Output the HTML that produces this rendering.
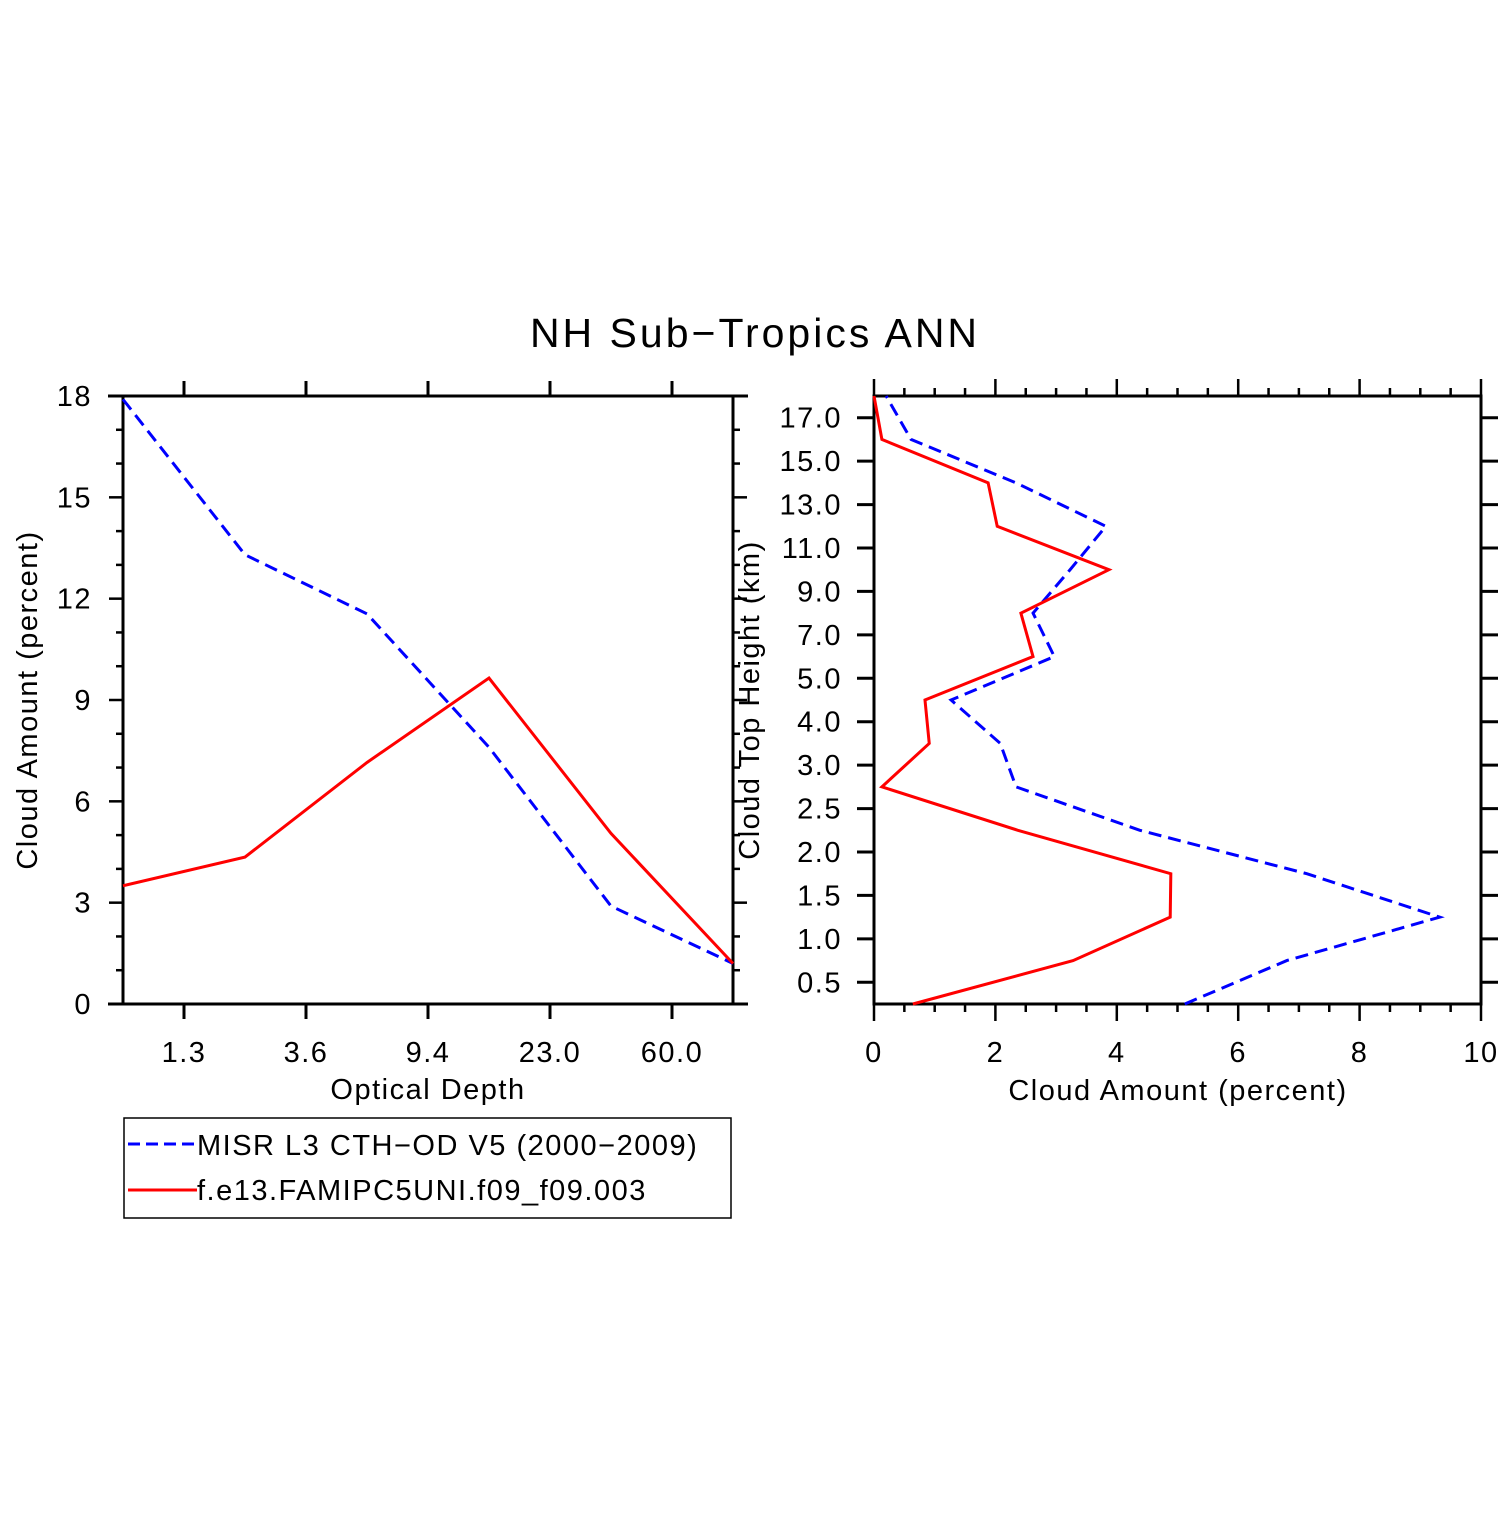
<!DOCTYPE html>
<html><head><meta charset="utf-8"><style>
html,body{margin:0;padding:0;background:#fff;}
svg text{font-family:"Liberation Sans","DejaVu Sans",sans-serif;fill:#000;letter-spacing:1.5px;}
</style></head><body>
<svg id="c" width="1510" height="1510" viewBox="0 0 1510 1510" xmlns="http://www.w3.org/2000/svg">
<rect width="1510" height="1510" fill="#fff"/>
<text x="755" y="347" font-size="41" text-anchor="middle" style="letter-spacing:3px">NH Sub−Tropics ANN</text>
<g id="L"></g>
<g id="R"></g>
<g>
<rect x="124" y="1118" width="607" height="100" fill="none" stroke="#000" stroke-width="1.5"/>
<line x1="128" y1="1144" x2="197" y2="1144" stroke="#00f" stroke-width="3" stroke-dasharray="12,6"/>
<text x="197" y="1155" font-size="29">MISR L3 CTH−OD V5 (2000−2009)</text>
<line x1="128" y1="1190" x2="197" y2="1190" stroke="#f00" stroke-width="3"/>
<text x="197" y="1200" font-size="29">f.e13.FAMIPC5UNI.f09_f09.003</text>
</g>
</svg>
<script>
// Left panel data
const odIndex = [0,1,2,3,4,5];
const odTickLabels = ["1.3","3.6","9.4","23.0","60.0"];
const odMisr = [17.9,13.3,11.55,7.6,2.9,1.2];
const odModel = [3.5,4.35,7.15,9.65,5.05,1.2];
const odYTicks = [0,3,6,9,12,15,18];
// Right panel data
const cthTickLabels = ["0.5","1.0","1.5","2.0","2.5","3.0","4.0","5.0","7.0","9.0","11.0","13.0","15.0","17.0"];
const cthMisr = [5.12,6.8,9.32,7.13,4.38,2.34,2.08,1.27,2.97,2.62,3.23,3.82,2.34,0.61,0.2];
const cthModel = [0.64,3.28,4.88,4.89,2.37,0.13,0.91,0.84,2.62,2.42,3.87,2.03,1.88,0.13,0.0];
const caXTicks = [0,2,4,6,8,10];

const NS="http://www.w3.org/2000/svg";
function mk(parent,tag,attrs,text){const e=document.createElementNS(NS,tag);for(const k in attrs)e.setAttribute(k,attrs[k]);if(text!==undefined)e.textContent=text;parent.appendChild(e);return e;}

// LEFT
const L=document.getElementById('L');
const lx0=123,lx1=733,ly0=1004,ly1=396;
const lxs=i=>lx0+(lx1-lx0)*i/5;
const lys=v=>ly0-(ly0-ly1)*v/18;
let e;
e=mk(L,'rect',{x:lx0,y:ly1,width:lx1-lx0,height:ly0-ly1,fill:'none',stroke:'#000','stroke-width':3});


mk(L,'line',{x1:108,y1:ly0,x2:748,y2:ly0,stroke:'#000','stroke-width':3});
mk(L,'line',{x1:108,y1:ly1,x2:748,y2:ly1,stroke:'#000','stroke-width':3});
for(let v=0;v<=18;v++){
  const y=lys(v), maj=v%3===0, len=maj?14:7;
  mk(L,'line',{x1:lx0-len,y1:y,x2:lx0,y2:y,stroke:'#000','stroke-width':2.5});
  mk(L,'line',{x1:lx1,y1:y,x2:lx1+len,y2:y,stroke:'#000','stroke-width':2.5});
}
odYTicks.forEach(v=>{
  e=mk(L,'text',{x:92,y:lys(v)+10,'font-size':29,'text-anchor':'end'},String(v));
  
  
});
odTickLabels.forEach((t,i)=>{
  const x=lxs(i+0.5);
  mk(L,'line',{x1:x,y1:ly1-15,x2:x,y2:ly1,stroke:'#000','stroke-width':3});
  mk(L,'line',{x1:x,y1:ly0,x2:x,y2:ly0+15,stroke:'#000','stroke-width':3});
  e=mk(L,'text',{x:x,y:1062,'font-size':29,'text-anchor':'middle'},t);
  
  
});
e=mk(L,'text',{x:428,y:1099,'font-size':29,'text-anchor':'middle'},'Optical Depth');


e=mk(L,'text',{x:0,y:0,'font-size':29,'text-anchor':'middle',transform:'translate(37,700) rotate(-90)'},'Cloud Amount (percent)');


e=mk(L,'polyline',{points:odIndex.map(i=>lxs(i)+','+lys(odMisr[i])).join(' '),fill:'none',stroke:'#00f','stroke-width':3,'stroke-dasharray':'13,7'});


e=mk(L,'polyline',{points:odIndex.map(i=>lxs(i)+','+lys(odModel[i])).join(' '),fill:'none',stroke:'#f00','stroke-width':3});



// RIGHT
const R=document.getElementById('R');
const rx0=874,rx1=1481,ry0=1004,ry1=396;
const rxs=v=>rx0+(rx1-rx0)*v/10;
const rys=i=>ry0-(ry0-ry1)*i/14;
e=mk(R,'rect',{x:rx0,y:ry1,width:rx1-rx0,height:ry0-ry1,fill:'none',stroke:'#000','stroke-width':3});


for(let k=0;k<=20;k++){
  const v=k/2, x=rxs(v), maj=k%4===0, len=maj?17:8;
  mk(R,'line',{x1:x,y1:ry0,x2:x,y2:ry0+len,stroke:'#000','stroke-width':2.5});
  mk(R,'line',{x1:x,y1:ry1-len,x2:x,y2:ry1,stroke:'#000','stroke-width':2.5});
}
caXTicks.forEach(v=>{
  e=mk(R,'text',{x:rxs(v),y:1062,'font-size':29,'text-anchor':'middle'},String(v));
  
  
});
cthTickLabels.forEach((t,i)=>{
  const y=rys(i+0.5);
  mk(R,'line',{x1:rx0-17,y1:y,x2:rx0,y2:y,stroke:'#000','stroke-width':3});
  mk(R,'line',{x1:rx1,y1:y,x2:rx1+17,y2:y,stroke:'#000','stroke-width':3});
  e=mk(R,'text',{x:842,y:y+10,'font-size':29,'text-anchor':'end'},t);
  
  
});
e=mk(R,'text',{x:1178,y:1100,'font-size':29,'text-anchor':'middle'},'Cloud Amount (percent)');


e=mk(R,'text',{x:0,y:0,'font-size':29,'text-anchor':'middle',transform:'translate(759,700) rotate(-90)'},'Cloud Top Height (km)');


e=mk(R,'polyline',{points:cthMisr.map((v,i)=>rxs(v)+','+rys(i)).join(' '),fill:'none',stroke:'#00f','stroke-width':3,'stroke-dasharray':'13,7'});


e=mk(R,'polyline',{points:cthModel.map((v,i)=>rxs(v)+','+rys(i)).join(' '),fill:'none',stroke:'#f00','stroke-width':3});


</script>
</body></html>
